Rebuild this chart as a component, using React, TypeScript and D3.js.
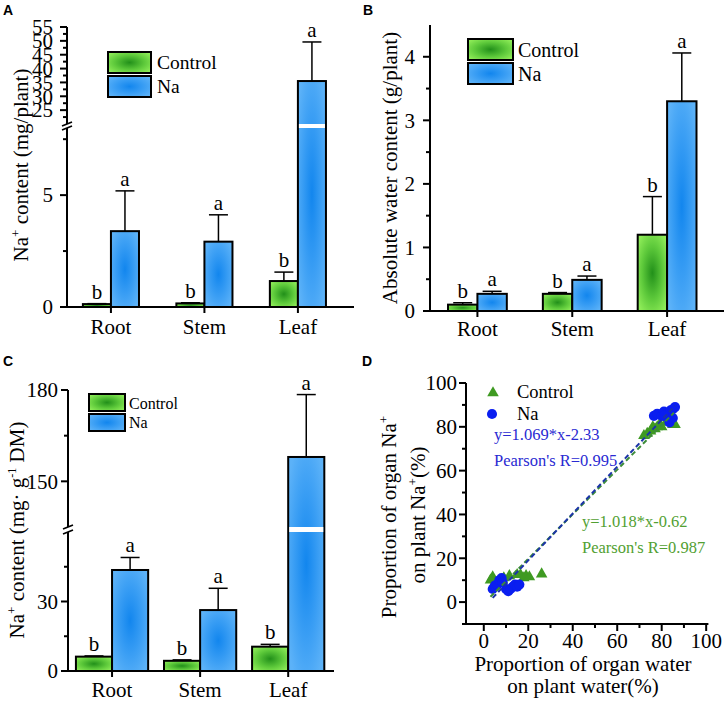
import React from 'react';
import * as d3 from 'd3';

// ---------- data ----------
const organs = ['Root', 'Stem', 'Leaf'];
const organPos = [1, 2, 3];
const letterControl = ['b', 'b', 'b'];
const letterNa = ['a', 'a', 'a'];

// Panel A: Na+ content (mg/plant)
const aControl = [0.13, 0.16, 1.16];
const aControlSD = [0.02, 0.03, 0.4];
const aNa = [3.39, 2.92, 35.5];
const aNaSD = [1.8, 1.2, 14.1];

// Panel B: absolute water content (g/plant)
const bControl = [0.1, 0.27, 1.2];
const bControlSD = [0.03, 0.02, 0.6];
const bNa = [0.27, 0.49, 3.3];
const bNaSD = [0.04, 0.06, 0.76];

// Panel C: Na+ content (mg g-1 DM)
const cControl = [6.2, 4.4, 10.5];
const cControlSD = [0.3, 0.4, 1.0];
const cNa = [43.6, 26.3, 158];
const cNaSD = [5.4, 9.4, 20.5];

// Panel D: proportions (%)
const dControlX = [3, 4, 5, 9, 11.5, 15, 16.5, 18, 19, 20.5, 26, 72, 73.5, 75, 76, 77, 78, 79, 80, 82, 85, 86];
const dControlY = [10, 11.5, 9, 11, 12, 12.5, 12.5, 11, 12, 11.5, 12.8, 76, 77, 78, 80, 79, 80, 81, 80, 82, 81, 81];
const dNaX = [4, 5, 6, 7, 8, 8.5, 10, 11, 12, 13, 14, 15, 16, 76.5, 78, 80, 81, 82.5, 84, 85, 86, 83.5, 85, 81];
const dNaY = [6, 7.5, 8, 10, 11, 9, 6, 5, 6, 7, 8, 7, 8, 85, 86, 85, 87, 86, 87.5, 88, 89, 82, 84, 85];
const fitNa = { slope: 1.069, intercept: -2.33, x0: 4, x1: 86 };
const fitControl = { slope: 1.018, intercept: -0.62, x0: 3, x1: 85.5 };

// ---------- styles ----------
const serif = "'Liberation Serif', 'Times New Roman', serif";
const sans = "'Liberation Sans', Arial, sans-serif";

type Seg = { domain: [number, number]; range: [number, number]; major: number[]; minor: number[] };

function makeY(segs: Seg[]) {
  const scales = segs.map((s) => d3.scaleLinear().domain(s.domain).range(s.range));
  return (v: number) => {
    for (let i = 0; i < segs.length; i++) {
      if (v <= segs[i].domain[1] || i === segs.length - 1) return scales[i](v);
    }
    return 0;
  };
}

function BarPanel(props: any) {
  const {
    xDomain, xRange, barW, segs, control, controlSD, na, naSD, labelGap, tickFont,
    catLabelY, legend, title, titleX, titleY, panel, panelXY,
  } = props;
  const x = d3.scaleLinear().domain(xDomain).range(xRange);
  const y = makeY(segs);
  const axisX = xRange[0];
  const baseY = segs[0].range[0];
  const capHalf = 9.5;

  const bars: any[] = [];
  const errs: any[] = [];
  const letters: any[] = [];
  organPos.forEach((p, i) => {
    const groups = [
      { v: control[i], sd: controlSD[i], x0: p - barW, fill: 'url(#gG)', letter: letterControl[i] },
      { v: na[i], sd: naSD[i], x0: p, fill: 'url(#gB)', letter: letterNa[i] },
    ];
    groups.forEach((g, j) => {
      const bx = x(g.x0);
      const bw = x(g.x0 + barW) - bx;
      const top = y(g.v);
      bars.push(
        <rect key={`b${i}${j}`} x={bx} y={top} width={bw} height={baseY - top} fill={g.fill} stroke="#000" strokeWidth={2} />
      );
      if (segs.length > 1 && g.v > segs[0].domain[1]) {
        bars.push(
          <rect key={`w${i}${j}`} x={bx + 1} y={segs[1].range[0]} width={bw - 2} height={segs[0].range[1] - segs[1].range[0]} fill="#fff" />
        );
      }
      const cx = bx + bw / 2;
      const et = y(g.v + g.sd);
      errs.push(
        <g key={`e${i}${j}`} stroke="#000" strokeWidth={1.5}>
          <line x1={cx} x2={cx} y1={top} y2={et} />
          <line x1={cx - capHalf} x2={cx + capHalf} y1={et} y2={et} />
        </g>
      );
      letters.push(
        <text key={`l${i}${j}`} x={cx} y={et - 5} textAnchor="middle" fontSize={21}>{g.letter}</text>
      );
    });
  });

  const axis: any[] = [];
  segs.forEach((s: Seg, k: number) => {
    axis.push(<line key={`ya${k}`} x1={axisX} x2={axisX} y1={s.range[0] + (k === 0 ? 1 : 0)} y2={s.range[1]} stroke="#000" strokeWidth={2} />);
    const sc = d3.scaleLinear().domain(s.domain).range(s.range);
    s.major.forEach((t) => {
      axis.push(<line key={`ym${k}${t}`} x1={axisX - 7} x2={axisX} y1={sc(t)} y2={sc(t)} stroke="#000" strokeWidth={2} />);
      axis.push(
        <text key={`yl${k}${t}`} x={axisX - labelGap} y={sc(t)} dy="0.35em" textAnchor="end" fontSize={tickFont}>{t}</text>
      );
    });
    s.minor.forEach((t) => {
      axis.push(<line key={`yn${k}${t}`} x1={axisX - 4} x2={axisX} y1={sc(t)} y2={sc(t)} stroke="#000" strokeWidth={2} />);
    });
  });
  if (segs.length > 1) {
    const b0 = segs[0].range[1];
    const b1 = segs[1].range[0];
    axis.push(<line key="br1" x1={axisX - 5} x2={axisX + 5} y1={b0 + 2} y2={b0 - 2} stroke="#000" strokeWidth={1.8} />);
    axis.push(<line key="br2" x1={axisX - 5} x2={axisX + 5} y1={b1 + 2} y2={b1 - 2} stroke="#000" strokeWidth={1.8} />);
  }
  axis.push(<line key="xa" x1={axisX - 1} x2={xRange[1]} y1={baseY} y2={baseY} stroke="#000" strokeWidth={2} />);
  organPos.forEach((p, i) => {
    axis.push(<line key={`xt${i}`} x1={x(p)} x2={x(p)} y1={baseY} y2={baseY + 6} stroke="#000" strokeWidth={2} />);
    axis.push(<text key={`xl${i}`} x={x(p)} y={catLabelY} textAnchor="middle" fontSize={21}>{organs[i]}</text>);
  });

  return (
    <g>
      {bars}
      {errs}
      {letters}
      {axis}
      <g>
        <rect x={legend.x} y={legend.y0} width={legend.w} height={legend.h} fill="url(#gG)" stroke="#000" strokeWidth={2} />
        <rect x={legend.x} y={legend.y1} width={legend.w} height={legend.h} fill="url(#gB)" stroke="#000" strokeWidth={2} />
        <text x={legend.tx} y={legend.t0} fontSize={legend.font}>Control</text>
        <text x={legend.tx} y={legend.t1} fontSize={legend.font}>Na</text>
      </g>
      <text transform={`translate(${titleX},${titleY}) rotate(-90)`} textAnchor="middle" fontSize={21}>{title}</text>
      <text x={panelXY[0]} y={panelXY[1]} className="sans" fontWeight="bold" fontSize={14}>{panel}</text>
    </g>
  );
}

function ScatterPanel() {
  const x = d3.scaleLinear().domain([-8, 101]).range([466, 708.4]);
  const y = d3.scaleLinear().domain([-10, 100]).range([624, 383]);
  const tri = d3.symbol().type(d3.symbolTriangle).size(58)() as string;
  const circ = d3.symbol().type(d3.symbolCircle).size(80)() as string;
  const green = '#3f9a22';
  const blue = '#0a1ef0';
  const xMajor = d3.range(0, 101, 20);
  const xMinor = d3.range(10, 100, 20);
  const yMajor = d3.range(0, 101, 20);
  const yMinor = d3.range(-10, 100, 20);
  const fitLine = (f: any) =>
    d3.line<number>().x((v) => x(v)).y((v) => y(f.slope * v + f.intercept))([f.x0, f.x1]) as string;
  return (
    <g>
      {dControlX.map((v, i) => (
        <path key={`c${i}`} d={tri} transform={`translate(${x(v)},${y(dControlY[i])})`} fill={green} />
      ))}
      {dNaX.map((v, i) => (
        <path key={`n${i}`} d={circ} transform={`translate(${x(v)},${y(dNaY[i])})`} fill={blue} />
      ))}
      <path d={fitLine(fitControl)} stroke="#3d8c3a" strokeWidth={2} strokeDasharray="5,3" fill="none" />
      <path d={fitLine(fitNa)} stroke="#1c34a8" strokeWidth={2} strokeDasharray="5,3" fill="none" />
      <line x1={466} x2={466} y1={y(100)} y2={625} stroke="#000" strokeWidth={2} />
      <line x1={465} x2={708.4} y1={624} y2={624} stroke="#000" strokeWidth={2} />
      {xMajor.map((t) => (
        <g key={`xm${t}`}>
          <line x1={x(t)} x2={x(t)} y1={624} y2={631} stroke="#000" strokeWidth={2} />
          <text x={x(t)} y={648} textAnchor="middle" fontSize={21}>{t}</text>
        </g>
      ))}
      {xMinor.map((t) => (
        <line key={`xn${t}`} x1={x(t)} x2={x(t)} y1={624} y2={628} stroke="#000" strokeWidth={2} />
      ))}
      {yMajor.map((t) => (
        <g key={`ym${t}`}>
          <line x1={459} x2={466} y1={y(t)} y2={y(t)} stroke="#000" strokeWidth={2} />
          <text x={457} y={y(t)} dy="0.35em" textAnchor="end" fontSize={21}>{t}</text>
        </g>
      ))}
      {yMinor.map((t) => (
        <line key={`yn${t}`} x1={462} x2={466} y1={y(t)} y2={y(t)} stroke="#000" strokeWidth={2} />
      ))}
      <path d={tri} transform="translate(493,393)" fill={green} />
      <text x={517} y={398} fontSize={18.5}>Control</text>
      <path d={circ} transform="translate(492,414)" fill={blue} />
      <text x={517} y={420} fontSize={18.5}>Na</text>
      <text x={494} y={440} fontSize={16.5} fill="#2a2ad2">y=1.069*x-2.33</text>
      <text x={494} y={466} fontSize={16.5} fill="#2a2ad2">Pearson's R=0.995</text>
      <text x={582} y={527} fontSize={16.5} fill="#52a032">y=1.018*x-0.62</text>
      <text x={582} y={553} fontSize={16.5} fill="#52a032">Pearson's R=0.987</text>
      <text x={583} y={671} textAnchor="middle" fontSize={21}>Proportion of organ water</text>
      <text x={583} y={693} textAnchor="middle" fontSize={21}>on plant water(%)</text>
      <text transform="translate(396,517) rotate(-90)" textAnchor="middle" fontSize={21}>
        <tspan>Proportion of organ Na</tspan>
        <tspan dy={-8} fontSize={13}>+</tspan>
      </text>
      <text transform="translate(425,515) rotate(-90)" textAnchor="middle" fontSize={21}>
        <tspan>on plant Na</tspan>
        <tspan dy={-8} fontSize={13}>+</tspan>
        <tspan dy={8}>(%)</tspan>
      </text>
      <text x={362} y={366} className="sans" fontWeight="bold" fontSize={14}>D</text>
    </g>
  );
}

export default function App() {
  const upperA = d3.range(25, 56, 5);
  const upperAMinor = d3.range(22.5, 55, 5);
  return (
    <svg width={725} height={705} style={{ position: 'absolute', left: 0, top: 0, background: '#fff' }} fontFamily={serif}>
      <style>{`text { font-family: ${serif}; } text.sans { font-family: ${sans}; }`}</style>
      <defs>
        <radialGradient id="gG" cx="0.5" cy="0.5" r="0.62">
          <stop offset="0" stopColor="#22901a" />
          <stop offset="0.55" stopColor="#5cc83a" />
          <stop offset="1" stopColor="#8eec58" />
        </radialGradient>
        <radialGradient id="gB" cx="0.5" cy="0.5" r="0.62">
          <stop offset="0" stopColor="#1286ee" />
          <stop offset="0.55" stopColor="#3a9ef4" />
          <stop offset="1" stopColor="#5cb2f8" />
        </radialGradient>
      </defs>
      <BarPanel
        xDomain={[0.53, 3.6]} xRange={[67, 354]} barW={0.3}
        segs={[
          { domain: [0, 8], range: [307, 128], major: [0, 5], minor: [2.5, 7.5] },
          { domain: [20, 55], range: [124, 27], major: upperA, minor: upperAMinor },
        ]}
        control={aControl} controlSD={aControlSD} na={aNa} naSD={aNaSD}
        labelGap={14} tickFont={21} catLabelY={334}
        legend={{ x: 108, y0: 52, y1: 76, w: 43, h: 21, tx: 157, t0: 69, t1: 93, font: 19.5 }}
        title={<><tspan>Na</tspan><tspan dy={-8} fontSize={13}>+</tspan><tspan dy={8}> content (mg/plant)</tspan></>}
        titleX={28} titleY={165}
        panel="A" panelXY={[3, 15]}
      />
      <BarPanel
        xDomain={[0.5, 3.6]} xRange={[430, 724]} barW={0.31}
        segs={[{ domain: [0, 4.5], range: [311, 25], major: [0, 1, 2, 3, 4], minor: [0.5, 1.5, 2.5, 3.5] }]}
        control={bControl} controlSD={bControlSD} na={bNa} naSD={bNaSD}
        labelGap={15} tickFont={21} catLabelY={336}
        legend={{ x: 468, y0: 39, y1: 63, w: 45, h: 21, tx: 518, t0: 57, t1: 81, font: 20 }}
        title="Absolute water content (g/plant)" titleX={397} titleY={168}
        panel="B" panelXY={[363, 15]}
      />
      <BarPanel
        xDomain={[0.5, 3.52]} xRange={[68, 334]} barW={0.41}
        segs={[
          { domain: [0, 60], range: [671, 532], major: [0, 30], minor: [15, 45] },
          { domain: [135, 180], range: [527, 390], major: [150, 180], minor: [165] },
        ]}
        control={cControl} controlSD={cControlSD} na={cNa} naSD={cNaSD}
        labelGap={10} tickFont={21} catLabelY={697}
        legend={{ x: 89, y0: 394, y1: 414, w: 36, h: 17, tx: 129, t0: 409, t1: 428, font: 16 }}
        title={<><tspan>Na</tspan><tspan dy={-8} fontSize={13}>+</tspan><tspan dy={8}> content (mg· g</tspan><tspan dy={-8} fontSize={12}>-1</tspan><tspan dy={8}> DM)</tspan></>}
        titleX={24} titleY={530}
        panel="C" panelXY={[3, 366]}
      />
      <ScatterPanel />
    </svg>
  );
}
